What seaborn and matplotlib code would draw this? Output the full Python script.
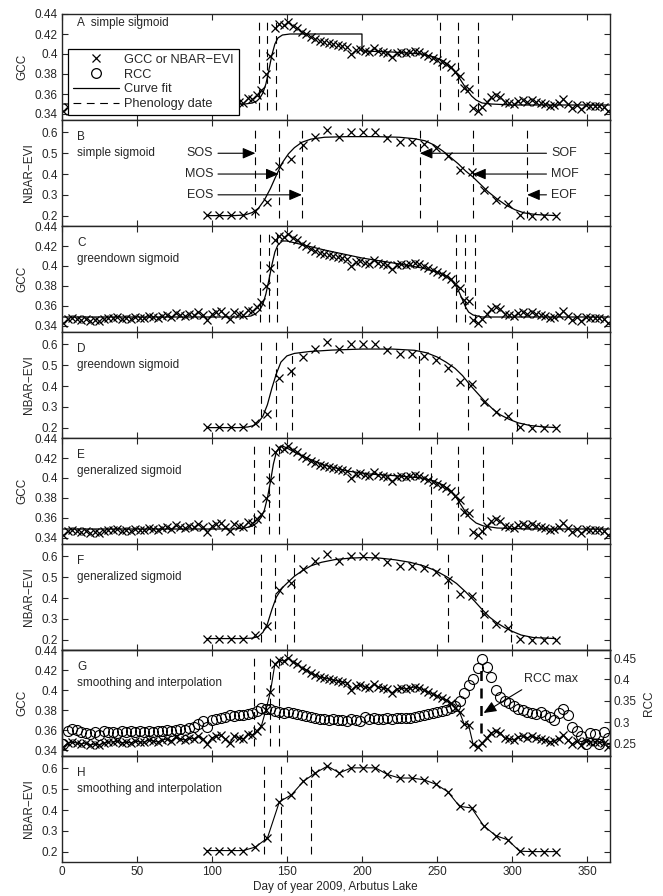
import matplotlib
matplotlib.use("Agg")
import matplotlib.pyplot as plt
from matplotlib.lines import Line2D
import seaborn as sns

# ---- data ----
gcc_day = list(range(1, 365, 3))
gcc = [0.343, 0.347, 0.348, 0.347, 0.346, 0.347, 0.345, 0.346, 0.345, 0.347,
       0.348, 0.348, 0.349, 0.347, 0.348, 0.347, 0.349, 0.348, 0.348, 0.350,
       0.349, 0.348, 0.350, 0.351, 0.349, 0.353, 0.351, 0.350, 0.352, 0.351,
       0.354, 0.351, 0.346, 0.352, 0.354, 0.355, 0.351, 0.347, 0.354, 0.352,
       0.351, 0.356, 0.355, 0.359, 0.364, 0.380, 0.398, 0.426, 0.430, 0.429,
       0.432, 0.428, 0.426, 0.422, 0.420, 0.417, 0.415, 0.413, 0.412, 0.411,
       0.410, 0.409, 0.408, 0.407, 0.400, 0.404, 0.405, 0.403, 0.402, 0.406,
       0.403, 0.402, 0.401, 0.397, 0.401, 0.402, 0.401, 0.402, 0.403, 0.402,
       0.400, 0.398, 0.396, 0.394, 0.392, 0.390, 0.387, 0.382, 0.378, 0.366,
       0.365, 0.346, 0.343, 0.347, 0.352, 0.357, 0.359, 0.357, 0.352, 0.351,
       0.350, 0.353, 0.354, 0.352, 0.354, 0.352, 0.351, 0.350, 0.348, 0.349,
       0.351, 0.355, 0.350, 0.346, 0.349, 0.345, 0.349, 0.348, 0.348, 0.348,
       0.347, 0.343]
rcc = [0.250, 0.280, 0.285, 0.283, 0.278, 0.275, 0.272, 0.276, 0.270, 0.280,
       0.276, 0.278, 0.275, 0.279, 0.277, 0.280, 0.276, 0.279, 0.278, 0.280,
       0.277, 0.280, 0.279, 0.282, 0.280, 0.283, 0.285, 0.282, 0.287, 0.290,
       0.295, 0.302, 0.290, 0.305, 0.307, 0.310, 0.312, 0.318, 0.314, 0.316,
       0.318, 0.320, 0.322, 0.326, 0.333, 0.332, 0.330, 0.327, 0.325, 0.322,
       0.323, 0.322, 0.320, 0.318, 0.315, 0.312, 0.310, 0.308, 0.307, 0.306,
       0.307, 0.305, 0.306, 0.304, 0.307, 0.305, 0.302, 0.312, 0.308, 0.309,
       0.307, 0.308, 0.309, 0.308, 0.309, 0.310, 0.309, 0.311, 0.312, 0.315,
       0.318, 0.320, 0.322, 0.324, 0.326, 0.329, 0.333, 0.338, 0.350, 0.368,
       0.388, 0.402, 0.428, 0.448, 0.430, 0.405, 0.375, 0.358, 0.350, 0.345,
       0.338, 0.332, 0.328, 0.325, 0.322, 0.320, 0.325, 0.318, 0.312, 0.305,
       0.322, 0.330, 0.318, 0.290, 0.280, 0.268, 0.250, 0.275, 0.272, 0.250,
       0.276, 0.262]
evi_day = list(range(97, 330, 8))
evi = [0.205, 0.205, 0.205, 0.205, 0.222, 0.265, 0.440, 0.473, 0.538, 0.579,
       0.611, 0.579, 0.603, 0.603, 0.603, 0.571, 0.554, 0.554, 0.546, 0.525,
       0.489, 0.418, 0.410, 0.325, 0.277, 0.257, 0.202, 0.200, 0.200, 0.200]

# curve fits
fitA_day = [1, 110, 122, 127, 130, 132, 134, 136, 138, 140, 142, 144, 147, 152, 200, 200,
            220, 240, 248, 253, 257, 261, 264, 267, 270, 273, 276, 280, 286, 300, 365]
fitA = [0.350, 0.350, 0.350, 0.351, 0.353, 0.356, 0.361, 0.370, 0.384, 0.399, 0.410,
        0.416, 0.419, 0.420, 0.420, 0.403, 0.402, 0.400, 0.397, 0.394, 0.390, 0.384,
        0.378, 0.371, 0.364, 0.358, 0.354, 0.351, 0.350, 0.349, 0.349]
fitB_day = [97, 115, 122, 127, 131, 135, 139, 143, 147, 151, 155, 160, 166, 175, 190, 210,
            225, 235, 242, 248, 254, 259, 264, 269, 274, 279, 284, 290, 296, 302, 308, 316, 329]
fitB = [0.200, 0.200, 0.203, 0.215, 0.235, 0.275, 0.330, 0.395, 0.455, 0.497, 0.527,
        0.553, 0.568, 0.577, 0.580, 0.580, 0.577, 0.570, 0.560, 0.540, 0.510, 0.480,
        0.450, 0.415, 0.385, 0.350, 0.315, 0.280, 0.250, 0.228, 0.213, 0.205, 0.200]
fitC_day = [1, 120, 126, 129, 132, 134, 136, 138, 140, 142, 144, 147, 150, 175, 200, 225,
            240, 250, 256, 260, 263, 265, 267, 269, 271, 274, 280, 365]
fitC = [0.349, 0.349, 0.350, 0.352, 0.356, 0.362, 0.372, 0.386, 0.401, 0.414, 0.421,
        0.425, 0.425, 0.416, 0.408, 0.402, 0.398, 0.394, 0.390, 0.385, 0.379, 0.373,
        0.366, 0.359, 0.354, 0.351, 0.349, 0.349]
fitD_day = [97, 118, 124, 128, 131, 134, 137, 140, 143, 146, 150, 155, 165, 180, 200, 220,
            235, 243, 250, 256, 262, 267, 272, 277, 282, 287, 292, 298, 304, 312, 320, 329]
fitD = [0.200, 0.200, 0.203, 0.210, 0.225, 0.255, 0.310, 0.390, 0.460, 0.515, 0.545,
        0.557, 0.566, 0.573, 0.578, 0.578, 0.572, 0.560, 0.540, 0.515, 0.485, 0.450,
        0.405, 0.365, 0.325, 0.290, 0.262, 0.240, 0.223, 0.210, 0.204, 0.200]
fitE_day = [1, 115, 122, 127, 130, 133, 135, 137, 139, 141, 143, 145, 147, 150, 156, 165,
            175, 190, 205, 225, 240, 248, 254, 259, 263, 266, 269, 272, 276, 281, 290, 310, 365]
fitE = [0.349, 0.349, 0.350, 0.352, 0.355, 0.361, 0.368, 0.380, 0.396, 0.414, 0.426,
        0.431, 0.432, 0.430, 0.425, 0.419, 0.413, 0.407, 0.404, 0.402, 0.400, 0.397,
        0.393, 0.387, 0.380, 0.373, 0.366, 0.360, 0.355, 0.352, 0.350, 0.349, 0.349]
fitF_day = [97, 120, 127, 131, 134, 137, 140, 143, 147, 151, 155, 160, 166, 173, 182, 192,
            202, 212, 222, 232, 241, 249, 257, 263, 269, 275, 280, 285, 290, 295, 300, 306, 314, 329]
fitF = [0.205, 0.205, 0.207, 0.215, 0.235, 0.275, 0.345, 0.405, 0.450, 0.478, 0.505,
        0.530, 0.555, 0.572, 0.585, 0.592, 0.595, 0.592, 0.584, 0.572, 0.555, 0.532,
        0.500, 0.470, 0.430, 0.385, 0.345, 0.308, 0.280, 0.258, 0.240, 0.222, 0.210, 0.205]

# phenology dates
phenoA = [131.5, 137, 142.5, 252, 264, 277]
phenoB = [129, 144.5, 160, 238.5, 274, 310]
phenoC = [132, 138, 143.5, 262.5, 268.5, 275]
phenoD = [132.5, 142.5, 153.5, 238, 270.5, 303.5]
phenoE = [128, 138, 144.5, 246, 264, 280.5]
phenoF = [133, 142, 154.5, 257, 280, 299.5]
phenoG = [128, 139, 144.5]
rcc_max_day = 279.5
phenoH = [135, 146, 166]

start_names = ["SOS", "MOS", "EOS"]
end_names = ["SOF", "MOF", "EOF"]
arrow_levels = [0.5, 0.4, 0.3]

panel_letters = list("ABCDEFGH")
panel_titles = ["simple sigmoid", "simple sigmoid", "greendown sigmoid", "greendown sigmoid",
                "generalized sigmoid", "generalized sigmoid",
                "smoothing and interpolation", "smoothing and interpolation"]

x_ticks = [0, 50, 100, 150, 200, 250, 300, 350]
gcc_ticks = [0.34, 0.36, 0.38, 0.40, 0.42, 0.44]
gcc_tlabels = ["0.34", "0.36", "0.38", "0.4", "0.42", "0.44"]
evi_ticks = [0.2, 0.3, 0.4, 0.5, 0.6]
evi_tlabels = ["0.2", "0.3", "0.4", "0.5", "0.6"]
rcc_ticks = [0.25, 0.30, 0.35, 0.40, 0.45]
rcc_tlabels = ["0.25", "0.3", "0.35", "0.4", "0.45"]

# ---- style ----
sns.set_style("ticks")
plt.rcParams["font.family"] = ["Liberation Sans", "DejaVu Sans"]
plt.rcParams["axes.linewidth"] = 1.0
FS = 8.5

fig = plt.figure(figsize=(6.63, 8.96), dpi=100)
W, H = 663.0, 896.0
left, width = 61.7 / W, 548 / W
top0, ph = 14.0, 106.0

axes = []
for i in range(8):
    b = 1 - (top0 + ph * (i + 1)) / H
    axes.append(fig.add_axes([left, b, width, ph / H]))


def crosses(ax, x, y, line=False):
    sns.lineplot(x=x, y=y, ax=ax, estimator=None, sort=False, color="k",
                 marker="x", markersize=5.8, markeredgewidth=0.9, markeredgecolor="k",
                 linestyle="-" if line else "none", lw=0.8)


def fit(ax, x, y):
    sns.lineplot(x=x, y=y, ax=ax, estimator=None, sort=False, color="k", lw=0.9)


def dates(ax, days, kind):
    lo, hi = (0.344, 0.432) if kind == "gcc" else (0.19, 0.62)
    ax.vlines(days, lo, hi, colors="k", linewidth=0.8, linestyles=[(0, (7, 5))])


def style(ax, kind, i):
    ax.set_xlim(0, 365)
    ax.set_xticks(x_ticks)
    if kind == "gcc":
        ax.set_ylim(0.334, 0.44)
        ax.set_yticks(gcc_ticks)
        ax.set_yticklabels(gcc_tlabels)
        ax.set_ylabel("GCC", fontsize=FS)
    else:
        ax.set_ylim(0.15, 0.66)
        ax.set_yticks(evi_ticks)
        ax.set_yticklabels(evi_tlabels)
        ax.set_ylabel("NBAR\u2212EVI", fontsize=FS)
    ax.tick_params(direction="in", top=True, right=(i != 6), length=4, width=0.8,
                   labelsize=FS, pad=3)
    if i < 7:
        ax.set_xticklabels([])
        ax.set_xlabel("")
    if i == 0:
        ax.text(0.028, 0.915, "A  " + panel_titles[0], transform=ax.transAxes,
                fontsize=FS, va="center", ha="left")
    else:
        ax.text(0.028, 0.84, panel_letters[i], transform=ax.transAxes,
                fontsize=FS, va="center", ha="left")
        ax.text(0.028, 0.69, panel_titles[i], transform=ax.transAxes,
                fontsize=FS, va="center", ha="left")


# A
ax = axes[0]
crosses(ax, gcc_day, gcc)
fit(ax, fitA_day, fitA)
dates(ax, phenoA, "gcc")
style(ax, "gcc", 0)
handles = [Line2D([], [], color="k", marker="x", ls="none", ms=5.8, mew=0.9),
           Line2D([], [], color="k", marker="o", ls="none", ms=7, mfc="none", mew=0.9),
           Line2D([], [], color="k", lw=0.9),
           Line2D([], [], color="k", lw=0.8, ls=(0, (7, 5)))]
leg = ax.legend(handles, ["GCC or NBAR\u2212EVI", "RCC", "Curve fit", "Phenology date"],
                loc="lower left", bbox_to_anchor=(0.012, 0.05), borderaxespad=0,
                fontsize=9.2, handlelength=3.6, labelspacing=0.22, handletextpad=0.45,
                borderpad=0.35, fancybox=False, framealpha=1, edgecolor="k")
leg.get_frame().set_linewidth(0.9)
leg.set_zorder(10)

# B
ax = axes[1]
crosses(ax, evi_day, evi)
fit(ax, fitB_day, fitB)
dates(ax, phenoB, "evi")
style(ax, "evi", 1)
aprops = dict(arrowstyle="-|>,head_length=0.7,head_width=0.3", color="k", lw=0.8,
              mutation_scale=11, shrinkA=1, shrinkB=0)
for name, lev, tip in zip(start_names, arrow_levels, phenoB[:3]):
    ax.annotate(name, xy=(tip, lev), xytext=(101, lev), ha="right", va="center",
                fontsize=FS + 0.5, arrowprops=aprops)
for name, lev, tip in zip(end_names, arrow_levels, phenoB[3:]):
    ax.annotate(name, xy=(tip, lev), xytext=(326, lev), ha="left", va="center",
                fontsize=FS + 0.5, arrowprops=aprops)

# C
ax = axes[2]
crosses(ax, gcc_day, gcc)
fit(ax, fitC_day, fitC)
dates(ax, phenoC, "gcc")
style(ax, "gcc", 2)

# D
ax = axes[3]
crosses(ax, evi_day, evi)
fit(ax, fitD_day, fitD)
dates(ax, phenoD, "evi")
style(ax, "evi", 3)

# E
ax = axes[4]
crosses(ax, gcc_day, gcc)
fit(ax, fitE_day, fitE)
dates(ax, phenoE, "gcc")
style(ax, "gcc", 4)

# F
ax = axes[5]
crosses(ax, evi_day, evi)
fit(ax, fitF_day, fitF)
dates(ax, phenoF, "evi")
style(ax, "evi", 5)

# G
ax = axes[6]
crosses(ax, gcc_day, gcc, line=True)
dates(ax, phenoG, "gcc")
ax.vlines([rcc_max_day], 0.357, 0.42, colors="k", linewidth=1.8, linestyles=[(0, (4, 3))])
style(ax, "gcc", 6)
ax.annotate("RCC max", xy=(281, 0.377), xytext=(326, 0.411), ha="center", va="center",
            fontsize=FS + 0.5,
            arrowprops=dict(arrowstyle="-|>,head_length=0.7,head_width=0.3", color="k",
                            lw=0.8, mutation_scale=11, shrinkA=2, shrinkB=0,
                            relpos=(0.1, 0.0)))
axr = ax.twinx()
sns.lineplot(x=gcc_day, y=rcc, ax=axr, estimator=None, sort=False, color="k",
             marker="o", markersize=7.2, markerfacecolor="none", markeredgecolor="k",
             markeredgewidth=0.8, linestyle="none")
axr.set_ylim(0.221, 0.469)
axr.set_yticks(rcc_ticks)
axr.set_yticklabels(rcc_tlabels)
axr.set_ylabel("RCC", fontsize=FS)
axr.tick_params(direction="in", length=4, width=0.8, labelsize=FS, pad=3)
axr.set_xlim(0, 365)

# H
ax = axes[7]
crosses(ax, evi_day, evi, line=True)
dates(ax, phenoH, "evi")
style(ax, "evi", 7)
ax.set_xlabel("Day of year 2009, Arbutus Lake", fontsize=FS, labelpad=2)

fig.savefig("out.png", dpi=100, facecolor="white")
